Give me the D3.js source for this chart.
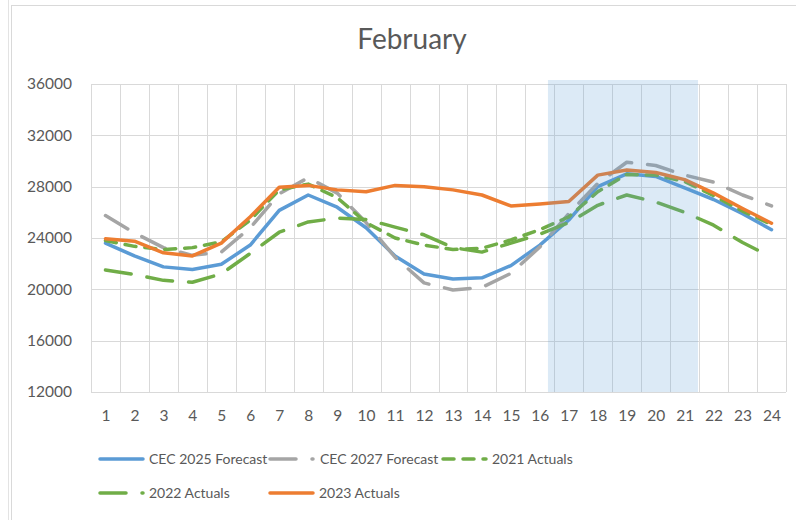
<!DOCTYPE html>
<html>
<head>
<meta charset="utf-8">
<script src="https://cdn.jsdelivr.net/npm/d3@7"></script>
<style>
  body { margin: 0; background: #fff; }
  text { font-family: Lato, "Open Sans", sans-serif; fill: #595959; }
</style>
</head>
<body>
<div class="chart"></div>
<script>
// chart data
const hours = [1, 2, 3, 4, 5, 6, 7, 8, 9, 10, 11, 12, 13, 14, 15, 16, 17, 18, 19, 20, 21, 22, 23, 24];
const cec2025 = [23600, 22600, 21750, 21550, 21950, 23450, 26150, 27350, 26400, 24800, 22600, 21200, 20800, 20900, 21850, 23450, 25400, 28000, 29000, 28800, 27900, 27000, 25900, 24650];
const cec2027 = [25750, 24400, 23250, 22650, 22900, 24800, 27450, 28700, 27500, 25200, 22500, 20500, 19950, 20150, 21250, 23300, 25900, 28250, 29900, 29650, 28900, 28350, 27350, 26500];
const act2021 = [23800, 23350, 23100, 23250, 23700, 25400, 27750, 28200, 27150, 25200, 24000, 23450, 23100, 23200, 23850, 24650, 25650, 27600, 28950, 28900, 28400, 27300, 26100, 25050];
const act2022 = [21500, 21150, 20700, 20550, 21200, 22800, 24450, 25250, 25550, 25450, 24850, 24250, 23250, 22900, 23600, 24300, 25200, 26550, 27350, 26800, 26000, 25000, 23650, 22500];
const act2023 = [23950, 23750, 22850, 22600, 23600, 25650, 27950, 28100, 27750, 27600, 28100, 28000, 27750, 27350, 26500, 26650, 26850, 28900, 29300, 29100, 28550, 27500, 26300, 25150];
const seriesNames = ["CEC 2025 Forecast", "CEC 2027 Forecast", "2021 Actuals", "2022 Actuals", "2023 Actuals"];
const yTicks = [12000, 16000, 20000, 24000, 28000, 32000, 36000];
const peakWindow = [16.28, 21.46];

const svgWidth = 796;
const svgHeight = 520;

const chartMargin = { top: 84, right: 10, bottom: 128, left: 91 };
const width = svgWidth - chartMargin.left - chartMargin.right;
const height = svgHeight - chartMargin.top - chartMargin.bottom;

let svg = d3.select(".chart")
    .append("svg")
    .attr("width", svgWidth)
    .attr("height", svgHeight);

// chart border
svg.append("rect")
    .attr("x", 11.5).attr("y", 5.5)
    .attr("width", 820).attr("height", 540)
    .attr("fill", "none")
    .attr("stroke", "#d9d9d9");
svg.append("line")
    .attr("x1", 8.5).attr("x2", 8.5)
    .attr("y1", 0).attr("y2", svgHeight)
    .attr("stroke", "#e3e3e3");

svg.append("text")
    .attr("x", 412).attr("y", 49)
    .attr("text-anchor", "middle")
    .attr("font-size", "28px")
    .text("February");

const chartGroup = svg.append("g")
    .attr("transform", `translate(${chartMargin.left}, ${chartMargin.top})`);

const xHour = d3.scaleLinear().domain([0.5, 24.5]).range([0, width]);
const yLoad = d3.scaleLinear().domain([12000, 36000]).range([height, 0]);

// gridlines
chartGroup.selectAll(".hgrid")
    .data(yTicks)
    .enter()
    .append("line")
    .attr("x1", 0).attr("x2", width)
    .attr("y1", d => Math.round(yLoad(d)) + 0.5)
    .attr("y2", d => Math.round(yLoad(d)) + 0.5)
    .attr("stroke", "#d9d9d9");

chartGroup.selectAll(".vgrid")
    .data([0].concat(hours))
    .enter()
    .append("line")
    .attr("x1", d => Math.round(xHour(d + 0.5)) + 0.5)
    .attr("x2", d => Math.round(xHour(d + 0.5)) + 0.5)
    .attr("y1", 0).attr("y2", height)
    .attr("stroke", "#d9d9d9");

// axes
let xAxis = d3.axisBottom(xHour).tickValues(hours).tickSize(0).tickPadding(18);
let yAxis = d3.axisLeft(yLoad).tickValues(yTicks).tickSize(0).tickPadding(19).tickFormat(d3.format("d"));

chartGroup.append("g")
    .attr("transform", `translate(0, ${height})`)
    .call(xAxis)
    .call(g => g.select(".domain").remove())
    .selectAll("text")
    .attr("font-size", "15.5px")
    .attr("font-family", "Lato, sans-serif")
    .attr("fill", "#595959");

chartGroup.append("g")
    .call(yAxis)
    .call(g => g.select(".domain").remove())
    .selectAll("text")
    .attr("font-size", "15.5px")
    .attr("font-family", "Lato, sans-serif")
    .attr("fill", "#595959");

// series lines
const allSeries = [cec2025, cec2027, act2021, act2022, act2023];
const colors = ["#5b9bd5", "#a5a5a5", "#70ad47", "#70ad47", "#ed7d31"];
const dashes = [null, "26,16", "11,9", "26,16", null];

const line = d3.line()
    .x((d, i) => xHour(hours[i]))
    .y(d => yLoad(d));

chartGroup.selectAll(".series")
    .data(allSeries)
    .enter()
    .append("path")
    .attr("d", d => line(d))
    .attr("fill", "none")
    .attr("stroke", (d, i) => colors[i])
    .attr("stroke-width", 3.5)
    .attr("stroke-linejoin", "round")
    .attr("stroke-linecap", "round")
    .attr("stroke-dasharray", (d, i) => dashes[i]);

// peak window shading
chartGroup.append("rect")
    .attr("x", xHour(peakWindow[0]))
    .attr("y", -4)
    .attr("width", xHour(peakWindow[1]) - xHour(peakWindow[0]))
    .attr("height", height + 4)
    .attr("fill", "#5b9bd5")
    .attr("opacity", 0.21);

// legend
const legendPos = [[100, 459], [270, 459], [443, 459], [100, 493], [270, 493]];
const textOffset = [49, 50, 49, 49, 49];

const legend = svg.selectAll(".legend")
    .data(seriesNames)
    .enter()
    .append("g")
    .attr("transform", (d, i) => `translate(${legendPos[i][0]}, ${legendPos[i][1]})`);

legend.append("line")
    .attr("x1", 0).attr("x2", 43)
    .attr("y1", 0).attr("y2", 0)
    .attr("stroke", (d, i) => colors[i])
    .attr("stroke-width", 3.5)
    .attr("stroke-linecap", "round")
    .attr("stroke-dasharray", (d, i) => dashes[i]);

legend.append("text")
    .attr("x", (d, i) => textOffset[i])
    .attr("y", 5)
    .attr("font-size", "14px")
    .text(d => d);
</script>
</body>
</html>
